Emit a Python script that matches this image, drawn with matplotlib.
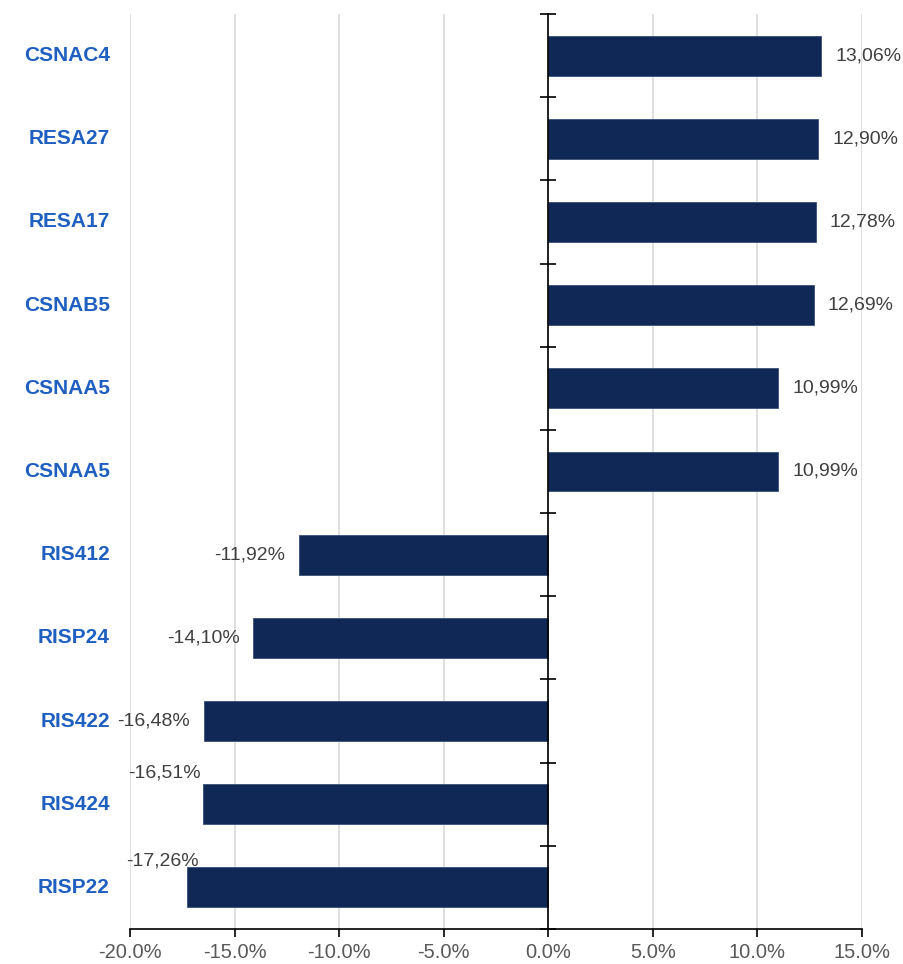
import numpy as np
import matplotlib
matplotlib.use('Agg')
import matplotlib.pyplot as plt
from matplotlib.ticker import FuncFormatter

plt.rcParams['font.family'] = ['Liberation Sans', 'DejaVu Sans']

# data
categories = ['CSNAC4', 'RESA27', 'RESA17', 'CSNAB5', 'CSNAA5', 'CSNAA5',
              'RIS412', 'RISP24', 'RIS422', 'RIS424', 'RISP22']
values = [13.06, 12.90, 12.78, 12.69, 10.99, 10.99,
          -11.92, -14.10, -16.48, -16.51, -17.26]
x_ticks = [-20, -15, -10, -5, 0, 5, 10, 15]

colors = {
    'bar': '#0f2856',
    'cat': '#1f5fbf',
    'value': '#404040',
    'tick': '#595959',
    'grid': '#d9d9d9',
}

fig = plt.figure(figsize=(9.04, 9.64), dpi=100)
ax = fig.add_axes([130 / 904, 1 - 929 / 964, (862 - 130) / 904, (929 - 14) / 964])

ypos = np.arange(len(categories))
ax.barh(ypos, values, height=0.48, color=colors['bar'], edgecolor='#3a5078',
        linewidth=0.6, zorder=3)

ax.set_xlim(-20, 15)
ax.set_ylim(len(categories) - 0.5, -0.5)

# grid + spines
ax.set_xticks(x_ticks)
ax.xaxis.set_major_formatter(FuncFormatter(lambda v, p: f'{v:.1f}%'))
ax.grid(True, axis='x', color=colors['grid'], linewidth=1.2, zorder=0)
ax.spines['top'].set_visible(False)
ax.spines['right'].set_visible(False)
ax.spines['bottom'].set_color('black')
ax.spines['bottom'].set_linewidth(1.2)
ax.spines['left'].set_position(('data', 0))
ax.spines['left'].set_color('black')
ax.spines['left'].set_linewidth(1.2)
ax.spines['left'].set_zorder(4)
ax.tick_params(axis='x', direction='out', length=6, width=1.2, pad=4,
               labelsize=14.5, labelcolor=colors['tick'])
ax.set_yticks(np.arange(len(categories) + 1) - 0.5)
ax.set_yticklabels([])
ax.tick_params(axis='y', direction='inout', length=12, width=1.2)

# category labels on the left
for i, name in enumerate(categories):
    ax.annotate(name, xy=(0, i), xycoords=('axes fraction', 'data'),
                xytext=(-20, 0), textcoords='offset pixels',
                ha='right', va='center', fontsize=15, fontweight='bold',
                color=colors['cat'])

# value labels
label_offsets = {9: (-2, 31), 10: (11, 26)}
for i, v in enumerate(values):
    txt = f'{v:.2f}%'.replace('.', ',')
    if v >= 0:
        dx, dy, ha = 14, 0, 'left'
    else:
        dx, dy = label_offsets.get(i, (-14, 0))
        ha = 'right'
    ax.annotate(txt, xy=(v, i), xytext=(dx, dy), textcoords='offset pixels',
                ha=ha, va='center', fontsize=14, color=colors['value'], zorder=5)

fig.savefig('out.png', dpi=100, facecolor='white')
